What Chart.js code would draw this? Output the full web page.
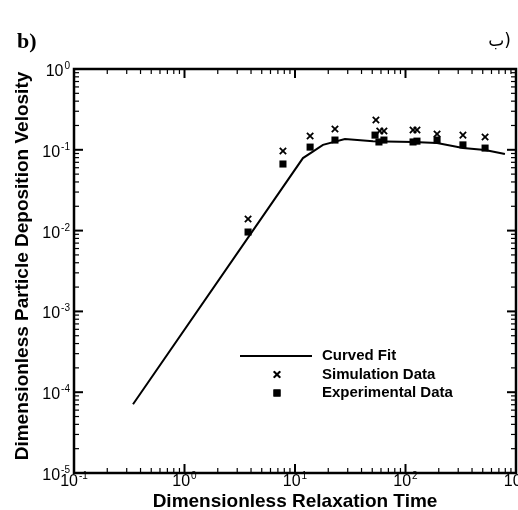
<!DOCTYPE html>
<html>
<head>
<meta charset="utf-8">
<script src="https://cdn.jsdelivr.net/npm/chart.js@4.4.0/dist/chart.umd.min.js"></script>
<style>
  html, body { margin: 0; padding: 0; background: #fff; }
  #wrap { width: 518px; height: 510px; position: relative; }
</style>
</head>
<body>
<div id="wrap"><canvas id="chart" width="518" height="510"></canvas></div>
<script>
// Curved fit
const fitTau = [0.342, 11.8, 14.5, 17.9, 28.3, 50.8, 117, 193, 331, 525, 794];
const fitVel = [7.1e-5, 0.079, 0.095, 0.115, 0.136, 0.128, 0.125, 0.121, 0.105, 0.0994, 0.0887];

// Simulation data (x markers)
const simTau = [3.76, 7.78, 13.7, 23, 54, 58.5, 63.8, 117, 127, 193, 331, 525];
const simVel = [0.0139, 0.0966, 0.148, 0.181, 0.234, 0.171, 0.171, 0.176, 0.176, 0.157, 0.152, 0.144];

// Experimental data (squares)
const expTau = [3.76, 7.78, 13.7, 23, 53, 57.5, 63.8, 117, 127, 193, 331, 525];
const expVel = [0.0096, 0.0667, 0.108, 0.132, 0.152, 0.125, 0.132, 0.125, 0.128, 0.132, 0.115, 0.105];

const xDecades = [-1, 0, 1, 2, 3];
const yDecades = [-5, -4, -3, -2, -1, 0];

const legendItems = ["Curved Fit", "Simulation Data", "Experimental Data"];
const xTitle = "Dimensionless Relaxation Time";
const yTitle = "Dimensionless Particle Deposition Velosity";

const toPoints = (xs, ys) => xs.map((x, i) => ({ x: x, y: ys[i] }));

function drawPow(ctx, exp, x, y, align) {
  // "10" with a superscript exponent; y is the baseline of "10"
  ctx.font = "16px 'Liberation Sans', Arial, sans-serif";
  const wBase = ctx.measureText("10").width;
  ctx.font = "10px 'Liberation Sans', Arial, sans-serif";
  const wExp = ctx.measureText(String(exp)).width;
  const total = wBase + wExp + 1;
  let left = x;
  if (align === "center") left = x - total / 2;
  if (align === "right") left = x - total;
  ctx.textAlign = "left";
  ctx.textBaseline = "alphabetic";
  ctx.font = "16px 'Liberation Sans', Arial, sans-serif";
  ctx.fillText("10", left, y);
  ctx.font = "10px 'Liberation Sans', Arial, sans-serif";
  ctx.fillText(String(exp), left + wBase + 1, y - 7);
}

const framePlugin = {
  id: "frame",
  afterDatasetsDraw(chart) {
    const ctx = chart.ctx;
    const { left, right, top, bottom } = chart.chartArea;
    const xs = chart.scales.x;
    const ys = chart.scales.y;
    ctx.save();
    ctx.fillStyle = "#000";
    ctx.strokeStyle = "#000";

    // ticks pointing inward on all four sides
    const tick = (x1, y1, x2, y2, w) => {
      ctx.lineWidth = w;
      ctx.beginPath();
      ctx.moveTo(x1, y1);
      ctx.lineTo(x2, y2);
      ctx.stroke();
    };
    for (let d = xDecades[0]; d <= xDecades[xDecades.length - 1]; d++) {
      for (let m = 1; m <= 9; m++) {
        const v = m * Math.pow(10, d);
        if (v > xs.max * 1.0001) break;
        const px = xs.getPixelForValue(v);
        const len = m === 1 ? 9 : 5;
        const w = m === 1 ? 2 : 1.2;
        tick(px, bottom, px, bottom - len, w);
        tick(px, top, px, top + len, w);
      }
    }
    for (let d = yDecades[0]; d <= yDecades[yDecades.length - 1]; d++) {
      for (let m = 1; m <= 9; m++) {
        const v = m * Math.pow(10, d);
        if (v > ys.max * 1.0001) break;
        const py = ys.getPixelForValue(v);
        const len = m === 1 ? 9 : 5;
        const w = m === 1 ? 2 : 1.2;
        tick(left, py, left + len, py, w);
        tick(right, py, right - len, py, w);
      }
    }

    // frame
    ctx.lineWidth = 2.5;
    ctx.strokeRect(left, top, right - left, bottom - top);

    // tick labels
    xDecades.forEach((d) => {
      drawPow(ctx, d, xs.getPixelForValue(Math.pow(10, d)), bottom + 13, "center");
    });
    yDecades.forEach((d) => {
      drawPow(ctx, d, left - 4, ys.getPixelForValue(Math.pow(10, d)) + 7, "right");
    });

    // axis titles
    ctx.font = "bold 19px 'Liberation Sans', Arial, sans-serif";
    ctx.textAlign = "center";
    ctx.textBaseline = "alphabetic";
    ctx.fillText(xTitle, 295, 507);
    ctx.save();
    ctx.translate(28, 266);
    ctx.rotate(-Math.PI / 2);
    ctx.fillText(yTitle, 0, 0);
    ctx.restore();

    // legend
    const lx = 240, ly = 356, gap = 18.5;
    tick(lx, ly, lx + 72, ly, 2);
    const sim = chart.data.datasets[1];
    const exp = chart.data.datasets[2];
    ctx.lineWidth = sim.borderWidth;
    Chart.helpers.drawPoint(ctx, { pointStyle: sim.pointStyle, radius: sim.pointRadius, borderWidth: sim.borderWidth }, lx + 37, ly + gap);
    ctx.stroke();
    Chart.helpers.drawPoint(ctx, { pointStyle: exp.pointStyle, radius: exp.pointRadius, borderWidth: 0 }, lx + 37, ly + 2 * gap);
    ctx.fill();
    ctx.font = "bold 15px 'Liberation Sans', Arial, sans-serif";
    ctx.textAlign = "left";
    ctx.textBaseline = "middle";
    legendItems.forEach((t, i) => ctx.fillText(t, 322, ly + i * gap));

    // panel labels
    ctx.textBaseline = "alphabetic";
    ctx.font = "bold 22px 'Liberation Serif', 'Times New Roman', serif";
    ctx.fillText("b)", 17, 48);
    ctx.font = "17px 'DejaVu Sans', 'Noto Sans', sans-serif";
    ctx.textAlign = "right";
    ctx.fillText("ب)", 511, 46);
    ctx.restore();
  },
};

new Chart(document.getElementById("chart"), {
  type: "scatter",
  data: {
    datasets: [
      {
        type: "line",
        label: legendItems[0],
        data: toPoints(fitTau, fitVel),
        borderColor: "#000",
        borderWidth: 2,
        pointRadius: 0,
        tension: 0,
        fill: false,
      },
      {
        label: legendItems[1],
        data: toPoints(simTau, simVel),
        pointStyle: "crossRot",
        pointRadius: 4.5,
        borderWidth: 1.8,
        borderColor: "#000",
        backgroundColor: "#000",
      },
      {
        label: legendItems[2],
        data: toPoints(expTau, expVel),
        pointStyle: "rect",
        pointRadius: 5,
        borderWidth: 0,
        borderColor: "#000",
        backgroundColor: "#000",
      },
    ],
  },
  options: {
    responsive: false,
    animation: false,
    layout: { autoPadding: false, padding: { left: 74, right: 2, top: 69, bottom: 37 } },
    scales: {
      x: { type: "logarithmic", min: 0.1, max: 1000, display: false },
      y: { type: "logarithmic", min: 1e-5, max: 1, display: false },
    },
    plugins: {
      legend: { display: false },
      tooltip: { enabled: false },
    },
  },
  plugins: [framePlugin],
});
</script>
</body>
</html>
